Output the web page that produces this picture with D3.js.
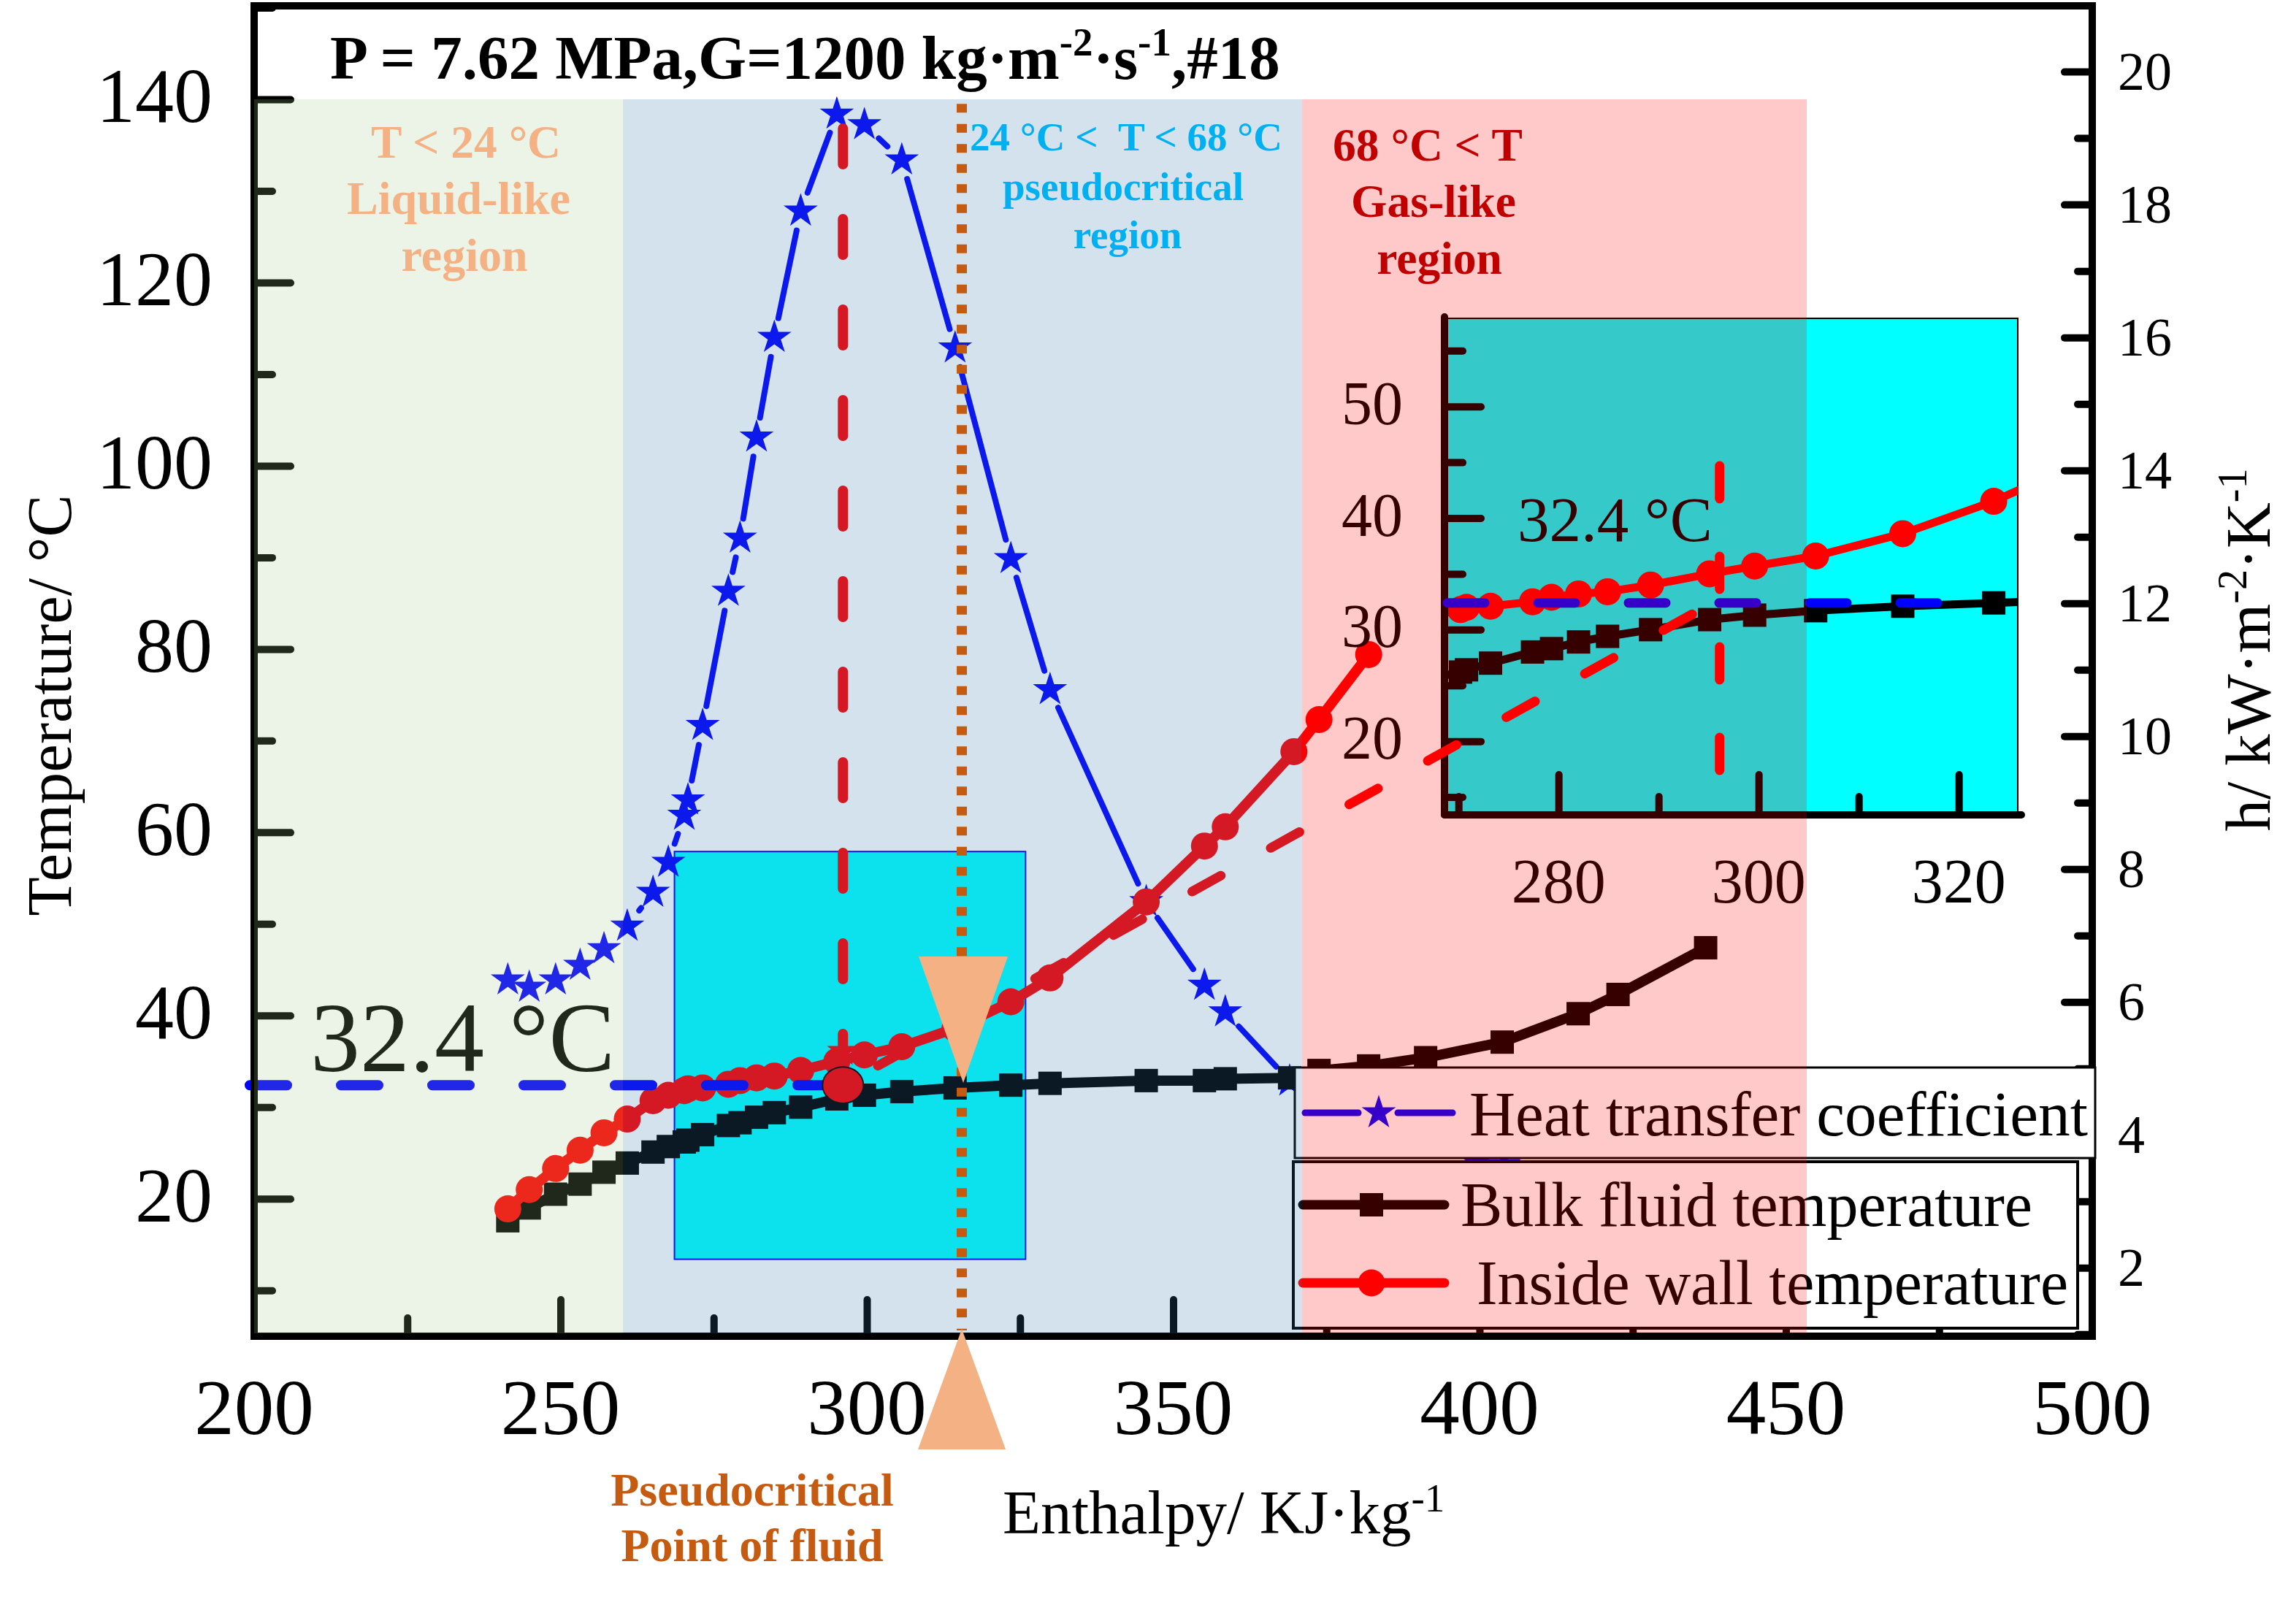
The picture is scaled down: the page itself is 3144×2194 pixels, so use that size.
<!DOCTYPE html>
<html><head><meta charset="utf-8">
<script src="https://d3js.org/d3.v7.min.js"></script>
<style>html,body{margin:0;background:#fff}svg{display:block}text{font-family:"Liberation Serif",serif}</style>
</head><body><script>
const heatX=[241.4,244.9,249.2,253.2,257.1,260.9,265.1,267.6,270.2,270.8,273.2,277.4,279.3,282,284.9,289.2,295.1,299.6,305.7,314.4,323.5,329.9,345.6,355.1,358.5,369,399.5,404];
const heatH=[6.33,6.22,6.33,6.55,6.8,7.14,7.65,8.1,8.81,9.04,10.16,12.18,12.98,14.5,16,17.9,19.36,19.2,18.67,15.84,12.67,10.7,7.51,6.25,5.85,4.81,3.6,3.55];
const bulkX=[241.4,244.9,249.2,253.2,257.1,260.9,265.1,267.6,270.2,270.8,273.2,277.4,279.3,282,284.9,289.2,295.1,299.6,305.7,314.4,323.5,329.9,345.6,355.1,358.5,369,373.8,381.9,391.2,403.7,416.1,422.6,436.9];
const bulkT=[17.6,19,20.5,21.6,22.9,23.9,25.1,25.7,26.2,26.4,27,28,28.3,28.9,29.4,30,30.9,31.3,31.7,32.1,32.4,32.6,32.9,32.9,33.1,33.2,34,34.5,35.4,37.1,40.2,42.3,47.4];
const wallX=[241.4,244.9,249.2,253.2,257.1,260.9,265.1,267.6,270.2,270.8,273.2,277.4,279.3,282,284.9,289.2,295.1,299.6,305.7,314.4,323.5,329.9,345.6,355.1,358.5,369.7,373.8,381.9];
const wallT=[18.9,21,23.3,25.3,27.2,28.7,30.7,31.3,31.8,32,32.1,32.5,32.9,33.2,33.4,34,35,35.7,36.6,38.6,41.5,44.1,52.4,58.5,60.6,68.8,72.3,79.4];
const xTicks=[200,250,300,350,400,450,500], xMinor=[225,275,325,375,425,475];
const yTicks=[20,40,60,80,100,120,140], yMinor=[10,30,50,70,90,110,130,150];
const hTicks=[2,4,6,8,10,12,14,16,18,20], hMinor=[1,3,5,7,9,11,13,15,17,19];
const insetXTicks=[280,300,320], insetXMinor=[270,290,310];
const insetYTicks=[20,30,40,50], insetYMinor=[15,25,35,45,55];
const zoomX=[268.6,325.9], zoomT=[13.4,57.9];
const pseudoT=32.4, markX=296.1, pcX=315.5, markStarT=36.1;
const connectorEnd=[434.7,83.8];
const regions=[{x0:200,x1:260.2,fill:"rgb(160,195,135)",a:.2},{x0:260.2,x1:371,fill:"rgb(50,120,170)",a:.21},{x0:371,x1:453.4,fill:"rgb(255,0,0)",a:.21}];

const W=3144,H=2194;
const svg=d3.select("body").append("svg").attr("width",W).attr("height",H);
const x=d3.scaleLinear([200,500],[348,2865]);
const y=d3.scaleLinear([5,150.2],[1830,8]);
const yh=d3.scaleLinear([0.97,20.99],[1830,8]);
const ix=d3.scaleLinear(zoomX,[1978,2763]);
const iy=d3.scaleLinear(zoomT,[1116,436]);
const BLUE="#0000ff",RED="#ff0000",K="#000";
const zip=(a,b)=>a.map((d,i)=>[d,b[i]]);

function series(g,X,Y,pts,color,kind,lw){
  const line=d3.line().x(d=>X(d[0])).y(d=>Y(d[1]));
  g.append("path").attr("d",line(pts)).attr("fill","none").attr("stroke",color).attr("stroke-width",lw).attr("stroke-linecap","round").attr("stroke-linejoin","round");
  if(kind==="square") g.selectAll(null).data(pts).join("rect").attr("x",d=>X(d[0])-16).attr("y",d=>Y(d[1])-16).attr("width",32).attr("height",32).attr("fill",color);
  else g.selectAll(null).data(pts).join("circle").attr("cx",d=>X(d[0])).attr("cy",d=>Y(d[1])).attr("r",18.5).attr("fill",color);
}
const star=d3.symbol(d3.symbolStar,680);

function main(){
  svg.append("rect").attr("x",x(zoomX[0])).attr("y",y(zoomT[1])).attr("width",x(zoomX[1])-x(zoomX[0])).attr("height",y(zoomT[0])-y(zoomT[1])).attr("fill","#00ffff").attr("stroke",BLUE).attr("stroke-width",2);
  const hp=zip(heatX,heatH).map(d=>[x(d[0]),yh(d[1])]);
  const gap=27;
  for(let i=0;i<hp.length-1;i++){
    const [a,b]=[hp[i],hp[i+1]],dx=b[0]-a[0],dy=b[1]-a[1],l=Math.hypot(dx,dy);
    if(l<=2*gap+2)continue;
    svg.append("line").attr("x1",a[0]+dx/l*gap).attr("y1",a[1]+dy/l*gap).attr("x2",b[0]-dx/l*gap).attr("y2",b[1]-dy/l*gap).attr("stroke",BLUE).attr("stroke-width",8).attr("stroke-linecap","round");
  }
  svg.selectAll(null).data(hp).join("path").attr("d",star).attr("transform",d=>`translate(${d[0]},${d[1]})`).attr("fill",BLUE);
  series(svg.append("g"),x,y,zip(bulkX,bulkT),K,"square",14);
  series(svg.append("g"),x,y,zip(wallX,wallT),RED,"circle",14);
  svg.append("path").attr("d",d3.symbol(d3.symbolStar,600)).attr("transform",`translate(${x(markX)},${y(markStarT)})`).attr("fill",RED);
  svg.append("line").attr("x1",x(markX)).attr("x2",x(markX)).attr("y1",176).attr("y2",y(pseudoT)).attr("stroke",RED).attr("stroke-width",14).attr("stroke-dasharray","49 75").attr("stroke-linecap","round");
  svg.append("line").attr("x1",342).attr("x2",x(markX)).attr("y1",y(pseudoT)).attr("y2",y(pseudoT)).attr("stroke",BLUE).attr("stroke-width",14).attr("stroke-dasharray","51 74").attr("stroke-linecap","round");
  svg.append("ellipse").attr("cx",x(markX)).attr("cy",y(pseudoT)).attr("rx",28).attr("ry",25).attr("fill",RED).attr("stroke",K).attr("stroke-width",2);
  svg.append("text").attr("x",425).attr("y",1467).attr("font-size",136).text("32.4 °C");
}
function axes(g,gen,minor,major,ty,tx,ml,Ml,w){
  [[minor,ml],[major,Ml]].forEach(([vals,len])=>{
    const a=g.append("g").attr("transform",`translate(${tx},${ty})`).call(gen.tickValues(vals).tickSize(-len).tickFormat(""));
    a.select(".domain").remove();
    a.selectAll("line").attr("stroke",K).attr("stroke-width",w).attr("stroke-linecap","round");
  });
}
function inset(){
  const g=svg.append("g");
  g.append("rect").attr("x",ix(zoomX[0])).attr("y",iy(zoomT[1])).attr("width",ix(zoomX[1])-ix(zoomX[0])).attr("height",iy(zoomT[0])-iy(zoomT[1])).attr("fill","#00ffff").attr("stroke",K).attr("stroke-width",2);
  svg.append("clipPath").attr("id","ic").append("rect").attr("x",1978).attr("y",436).attr("width",785).attr("height",680);
  const c=g.append("g").attr("clip-path","url(#ic)");
  series(c,ix,iy,zip(bulkX,bulkT),K,"square",11);
  series(c,ix,iy,zip(wallX,wallT),RED,"circle",11);
  axes(g,d3.axisBottom(ix),insetXMinor,insetXTicks,1116,0,25,55,10);
  axes(g,d3.axisLeft(iy),insetYMinor,insetYTicks,0,1978,25,50,10);
  insetXTicks.forEach(t=>g.append("text").attr("x",ix(t)).attr("y",1236).attr("text-anchor","middle").attr("font-size",86).text(t));
  insetYTicks.forEach(t=>g.append("text").attr("x",1921).attr("y",iy(t)+24).attr("text-anchor","end").attr("font-size",84).text(t));
  g.append("line").attr("x1",1978).attr("x2",2768).attr("y1",1116).attr("y2",1116).attr("stroke",K).attr("stroke-width",10).attr("stroke-linecap","round");
  g.append("line").attr("x1",1978).attr("x2",1978).attr("y1",434).attr("y2",1116).attr("stroke",K).attr("stroke-width",10).attr("stroke-linecap","round");
  g.append("text").attr("x",2078).attr("y",741).attr("font-size",87).text("32.4 °C");
  g.append("line").attr("x1",ix(markX)).attr("x2",ix(markX)).attr("y1",638).attr("y2",1057).attr("stroke",RED).attr("stroke-width",13).attr("stroke-dasharray","45 79").attr("stroke-linecap","round");
  g.append("line").attr("x1",1982).attr("x2",2656).attr("y1",iy(pseudoT)).attr("y2",iy(pseudoT)).attr("stroke",BLUE).attr("stroke-width",13).attr("stroke-dasharray","51 73").attr("stroke-linecap","round");
  svg.append("line").attr("x1",x(connectorEnd[0])).attr("y1",y(connectorEnd[1])).attr("x2",x(markX)).attr("y2",y(pseudoT)).attr("stroke",RED).attr("stroke-width",13).attr("stroke-dasharray","45 78").attr("stroke-linecap","round");
}
function frame(){
  const g=svg.append("g");
  axes(g,d3.axisBottom(x),xMinor,xTicks.slice(1,-1),1830,0,25,50,10);
  axes(g,d3.axisLeft(y),yMinor,yTicks,0,348,25,50,10);
  axes(g,d3.axisRight(yh),hMinor,hTicks,0,2865,20,38,10);
  g.append("rect").attr("x",348).attr("y",8).attr("width",2517).attr("height",1822).attr("fill","none").attr("stroke",K).attr("stroke-width",10);
  xTicks.forEach(t=>g.append("text").attr("x",x(t)).attr("y",1964).attr("text-anchor","middle").attr("font-size",109).text(t));
  yTicks.forEach(t=>g.append("text").attr("x",291).attr("y",y(t)+31).attr("text-anchor","end").attr("font-size",106).text(t));
  hTicks.forEach(t=>g.append("text").attr("x",2900).attr("y",yh(t)+25).attr("font-size",74).text(t));
  g.append("text").attr("transform","translate(97,966) rotate(-90)").attr("text-anchor","middle").attr("font-size",87).text("Temperature/ °C");
  const xt=g.append("text").attr("x",1373).attr("y",2100).attr("font-size",85);
  xt.append("tspan").text("Enthalpy/ KJ·kg");xt.append("tspan").attr("dy",-30).attr("font-size",55).text("-1");
  const yt=g.append("text").attr("transform","translate(3108,890) rotate(-90)").attr("text-anchor","middle").attr("font-size",87);
  yt.append("tspan").text("h/ kW·m");yt.append("tspan").attr("dy",-32).attr("font-size",56).text("-2");yt.append("tspan").attr("dy",32).text("·K");yt.append("tspan").attr("dy",-32).attr("font-size",56).text("-1");
  const t=g.append("text").attr("x",452).attr("y",108).attr("font-size",85).attr("font-weight","bold");
  t.append("tspan").text("P = 7.62 MPa,G=1200 kg·m");t.append("tspan").attr("dy",-32).attr("font-size",55).text("-2");t.append("tspan").attr("dy",32).text("·s");t.append("tspan").attr("dy",-32).attr("font-size",55).text("-1");t.append("tspan").attr("dy",32).text(",#18");
}
function legend(){
  const g=svg.append("g");
  g.append("rect").attr("x",1773).attr("y",1462).attr("width",1096).attr("height",124).attr("fill","#fff").attr("stroke",K).attr("stroke-width",3);
  g.append("rect").attr("x",1771).attr("y",1591).attr("width",1074).attr("height",228).attr("fill","#fff").attr("stroke",K).attr("stroke-width",4);
  g.append("line").attr("x1",1787).attr("x2",1860).attr("y1",1524).attr("y2",1524).attr("stroke",BLUE).attr("stroke-width",9).attr("stroke-linecap","round");
  g.append("line").attr("x1",1914).attr("x2",1989).attr("y1",1524).attr("y2",1524).attr("stroke",BLUE).attr("stroke-width",9).attr("stroke-linecap","round");
  g.append("path").attr("d",star).attr("transform","translate(1888,1524)").attr("fill",BLUE);
  g.append("line").attr("x1",1784).attr("x2",1978).attr("y1",1650).attr("y2",1650).attr("stroke",K).attr("stroke-width",13).attr("stroke-linecap","round");
  g.append("rect").attr("x",1862).attr("y",1634).attr("width",32).attr("height",32).attr("fill",K);
  g.append("line").attr("x1",1784).attr("x2",1978).attr("y1",1757).attr("y2",1757).attr("stroke",RED).attr("stroke-width",13).attr("stroke-linecap","round");
  g.append("circle").attr("cx",1878).attr("cy",1757).attr("r",18.5).attr("fill",RED);
  [["Heat transfer coefficient",2012,1555,847],["Bulk fluid temperature",2000,1679,783],["Inside wall temperature",2022,1786,810]].forEach(d=>
    g.append("text").attr("x",d[1]).attr("y",d[2]).attr("font-size",86).attr("textLength",d[3]).attr("lengthAdjust","spacingAndGlyphs").text(d[0]));
}
function overlay(){
  svg.selectAll(null).data(regions).join("rect").attr("x",d=>x(d.x0)).attr("width",d=>x(d.x1)-x(d.x0)).attr("y",y(140)).attr("height",y(5)-y(140)-4).attr("fill",d=>d.fill).attr("fill-opacity",d=>d.a);
}
function notes(){
  const lab=(s,cx,by,c,fs)=>svg.append("text").attr("x",cx).attr("y",by).attr("text-anchor","middle").attr("font-weight","bold").attr("font-size",fs).attr("fill",c).text(s);
  const P="#f4b183",B="#00b0f0",R="#c00000",O="#c55a11";
  lab("T < 24 °C",638,216,P,63.5);lab("Liquid-like",628,293,P,64);lab("region",636,371,P,64);
  lab("24 °C <\u00a0\u00a0T < 68 °C",1542,206,B,55);lab("pseudocritical",1538,274,B,55);lab("region",1544,340,B,55);
  lab("68 °C < T",1955,220,R,63.5);lab("Gas-like",1963,297,R,63.5);lab("region",1971,375,R,63.5);
  lab("Pseudocritical",1030,2062,O,64);lab("Point of fluid",1030,2138,O,64);
  svg.append("line").attr("x1",x(pcX)).attr("x2",x(pcX)).attr("y1",y(139.5)).attr("y2",1822).attr("stroke",O).attr("stroke-width",14).attr("stroke-dasharray","12 15.5");
  const tri=d3.line();
  const cx=x(pcX);
  svg.append("path").attr("d",tri([[cx-59,1310],[cx+63,1310],[cx+2,1483]])+"Z").attr("fill",P);
  svg.append("path").attr("d",tri([[cx,1820],[cx-60,1985],[cx+60,1985]])+"Z").attr("fill",P);
}
main();inset();frame();legend();overlay();notes();
</script></body></html>
